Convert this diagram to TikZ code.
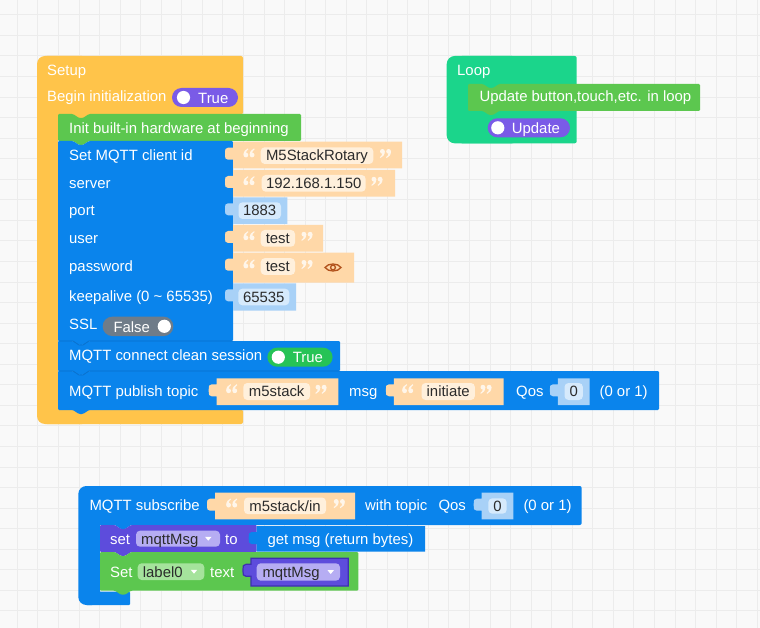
\documentclass[tikz,border=0pt]{standalone}
\usepackage{fontspec}
\setmainfont{Liberation Sans}
\definecolor{bgc}{HTML}{F9F9F9}
\definecolor{gridc}{HTML}{ECECEC}
\definecolor{Yc}{HTML}{FFC44A}
\definecolor{Bc}{HTML}{0A84EC}
\definecolor{Bseam}{HTML}{0870CC}
\definecolor{Gc}{HTML}{5CC74F}
\definecolor{Tc}{HTML}{1BD58B}
\definecolor{PPc}{HTML}{7A5BE7}
\definecolor{Pc}{HTML}{5D4CDC}
\definecolor{Plight}{HTML}{B6ADF3}
\definecolor{Pdark}{HTML}{3E2FB0}
\definecolor{Oc}{HTML}{FFD8A8}
\definecolor{Ofield}{HTML}{FFF0DC}
\definecolor{LBc}{HTML}{A8D1F7}
\definecolor{LBfield}{HTML}{D6EAFC}
\definecolor{Grayc}{HTML}{6F7C89}
\definecolor{GTc}{HTML}{26C356}
\definecolor{Glight}{HTML}{A5E39C}
\definecolor{txtd}{HTML}{2B2B2B}
\definecolor{eyec}{HTML}{B2521C}
\definecolor{qc}{HTML}{FFF6EA}
% statement block with top dip and bottom tab: x0,y0,x1,y1,colour
\newcommand\stmtblk[5]{\fill[#5, rounded corners=1.2] (#1,#2) -- ({#1+15},#2) -- ({#1+21},{#2+4}) -- ({#1+25},{#2+4}) -- ({#1+31},#2) -- (#3,#2) -- (#3,#4) -- ({#1+31},#4) -- ({#1+25},{#4+4}) -- ({#1+21},{#4+4}) -- ({#1+15},#4) -- (#1,#4) -- cycle;}
% parent notch bump above child at x0,y0
\newcommand\bmp[3]{\fill[#3] ({#1+15},{#2-0.6}) -- ({#1+15},#2) -- ({#1+21},{#2+4}) -- ({#1+25},{#2+4}) -- ({#1+31},#2) -- ({#1+31},{#2-0.6}) -- cycle;}
% value block with left puzzle tab: xbody,ytop,xright,ybottom,style
\newcommand\valblk[5]{\path[#5] (#1,#2) -- (#3,#2) -- (#3,#4) -- (#1,#4) -- (#1,{#2+18}) -- ({#1-5},{#2+18}) .. controls ({#1-8},{#2+18}) and ({#1-8},{#2+16}) .. ({#1-8},{#2+13}) -- ({#1-8},{#2+11}) .. controls ({#1-8},{#2+8}) and ({#1-8},{#2+6}) .. ({#1-5},{#2+6}) -- (#1,{#2+6}) -- cycle;}
\newcommand\fld[5]{\fill[#5, rounded corners=4] (#1,#2) rectangle (#3,#4);}
\newcommand\ddarrow[2]{\fill[white] ({#1-3.2},{#2-1.8}) -- ({#1+3.2},{#2-1.8}) -- (#1,{#2+2}) -- cycle;}
\newcommand\seam[3]{\draw[Bseam, line width=0.7] (#1,#2) -- ({#1+15},#2) -- ({#1+21},{#2+4}) -- ({#1+25},{#2+4}) -- ({#1+31},#2) -- (#3,#2);}
% quote images (opening and closing), centred at x,y
\newcommand\qmarko[2]{\fill[qc] ({#1},{#2+1.8}) circle (2.4); \fill[qc] ({#1-2.4},{#2+1.8}) .. controls ({#1-2.4},{#2-1.6}) and ({#1-0.6},{#2-3.8}) .. ({#1+2},{#2-4.8}) -- ({#1+2.5},{#2-3.9}) .. controls ({#1+0.9},{#2-3}) and ({#1+0.1},{#2-1.6}) .. ({#1+0.3},{#2-0.6}) -- cycle;}
\newcommand\qmarkc[2]{\fill[qc] ({#1},{#2-1.8}) circle (2.4); \fill[qc] ({#1+2.4},{#2-1.8}) .. controls ({#1+2.4},{#2+1.6}) and ({#1+0.6},{#2+3.8}) .. ({#1-2},{#2+4.8}) -- ({#1-2.5},{#2+3.9}) .. controls ({#1-0.9},{#2+3}) and ({#1-0.1},{#2+1.6}) .. ({#1-0.3},{#2+0.6}) -- cycle;}
\newcommand\qopen[2]{\qmarko{#1-3.1}{#2}\qmarko{#1+3.1}{#2}}
\newcommand\qclose[2]{\qmarkc{#1-3.1}{#2}\qmarkc{#1+3.1}{#2}}
\tikzset{
  bfont/.style={font=\fontsize{14.9}{16}\selectfont},
  wt/.style={bfont, anchor=base west, inner sep=0pt, text=white},
  dt/.style={bfont, anchor=base, inner sep=0pt, text=txtd},
  dtl/.style={bfont, anchor=base west, inner sep=0pt, text=txtd},
  pill/.style={rounded corners=9.5},
}
\begin{document}
\begin{tikzpicture}[x=1pt,y=-1pt]
\useasboundingbox (0,0) rectangle (760,628);
\fill[bgc] (0,0) rectangle (760,628);
\foreach \i in {0,...,36} \draw[gridc, line width=0.8] ({17.3+20.55*\i},0) -- ({17.3+20.55*\i},628);
\foreach \j in {0,...,30} \draw[gridc, line width=0.8] (0,{14.8+20.55*\j}) -- (760,{14.8+20.55*\j});

% ---------------- Setup block ----------------
\fill[Yc, rounded corners=8] (37,56) rectangle (90,130);
\fill[Yc, rounded corners=2] (45,56) rectangle (243,114.5);
\fill[Yc] (37,64) rectangle (58,416);
\fill[Yc, rounded corners=8] (37,380) rectangle (90,424);
\fill[Yc, rounded corners=2] (45,409.5) rectangle (243,424);
\bmp{58}{114}{Yc}
\node[wt] (setup) at (47,75.3) {Setup};
\node[wt] (begin) at (47,102) {Begin initialization};
\fill[PPc, pill] (172,88) rectangle (238,107);
\fill[white] (183.5,97.5) circle (6.6);
\node[wt] (btrue) at (198,103.2) {True};

\stmtblk{58}{114}{301}{141}{Gc}
\node[wt] (init) at (69,133.3) {Init built-in hardware at beginning};

\stmtblk{58}{141}{233}{341}{Bc}
\node[wt] (cid) at (69,160.3) {Set MQTT client id};
\node[wt] (srv) at (69,188.3) {server};
\node[wt] (prt) at (69,216) {port};
\node[wt] (usr) at (69,243.3) {user};
\node[wt] (pwd) at (69,271.3) {password};
\node[wt] (kal) at (69,301.3) {keepalive (0 \textasciitilde{} 65535)};
\node[wt] (ssl) at (69,329.8) {SSL};
\fill[Grayc, pill] (102.7,316.7) rectangle (173.3,336);
\node[wt] (sslf) at (113.3,332.6) {False};
\fill[white] (164.3,326.3) circle (6.6);

% value children
\valblk{233}{141.7}{402}{168.3}{fill=Oc}
\fld{260.7}{147.3}{373.3}{164}{Ofield}
\qopen{249}{153.2}
\node[dt] (v1) at (317,160.9) {M5StackRotary};
\qclose{385.5}{153.2}

\valblk{233}{170}{395}{196.7}{fill=Oc}
\fld{261.7}{175}{365.7}{191.7}{Ofield}
\qopen{249}{181}
\node[dt] (v2) at (313.7,188.6) {192.168.1.150};
\qclose{377}{181}

\valblk{233}{197.3}{287.3}{224}{fill=LBc}
\fld{238.5}{202.3}{281}{219}{LBfield}
\node[dt] (v3) at (259.7,216) {1883};

\valblk{233}{225}{323}{251.7}{fill=Oc}
\fld{260.7}{230}{295}{246.7}{Ofield}
\qopen{249}{236}
\node[dt] (v4) at (277.8,243.6) {test};
\qclose{307}{236}

\valblk{233}{252.7}{354}{282.7}{fill=Oc}
\fld{260.7}{258.2}{295}{274.9}{Ofield}
\qopen{249}{264.2}
\node[dt] (v5) at (277.8,271.8) {test};
\qclose{307}{264.2}
\draw[eyec, line width=1.3] (325,267.5) .. controls (328,262.8) and (338,262.8) .. (341,267.5) .. controls (338,272.2) and (328,272.2) .. (325,267.5) -- cycle;
\draw[eyec, line width=1.3] (333,267.5) circle (2.4);

\valblk{233}{283.3}{296}{310.7}{fill=LBc}
\fld{238.3}{288.7}{289.3}{305.3}{LBfield}
\node[dt] (v6) at (263.8,302.3) {65535};

% connect clean session
\stmtblk{58}{341}{340}{371}{Bc}
\seam{58}{341}{233}
\node[wt] (ccs) at (69,360.8) {MQTT connect clean session};
\fill[GTc, pill] (267.4,347.7) rectangle (332.6,366.7);
\fill[white] (278.3,357.2) circle (6.6);
\node[wt] (ctrue) at (292.7,362.8) {True};

% publish
\stmtblk{58}{371}{659}{410}{Bc}
\seam{58}{371}{340}
\node[wt] (pub) at (69,396.3) {MQTT publish topic};
\valblk{216.7}{378.3}{338.3}{405}{fill=Oc}
\fld{243.3}{383}{310}{400}{Ofield}
\qopen{231.7}{389}
\node[dt] (v7) at (276.7,396.8) {m5stack};
\qclose{321}{389}
\node[wt] (msg) at (349,396.3) {msg};
\valblk{393.9}{378.3}{503.7}{405}{fill=Oc}
\fld{421.5}{383}{474.9}{400}{Ofield}
\qopen{407.7}{389}
\node[dt] (v8) at (448.2,396.8) {initiate};
\qclose{486}{389}
\node[wt] (qos1) at (516,396.3) {Qos};
\valblk{557.9}{378.3}{589.5}{405}{fill=LBc}
\fld{564.5}{383}{582.9}{400}{LBfield}
\node[dt] (v9) at (573.7,396.8) {0};
\node[wt] (r01a) at (599.4,396.3) {(0 or 1)};

% ---------------- Loop block ----------------
\fill[Tc, rounded corners=8] (446.7,56) rectangle (520,143.3);
\fill[Tc, rounded corners=2] (460,56) rectangle (576.7,143.3);
\node[wt] (loop) at (457,75.3) {Loop};
\stmtblk{468}{84}{700}{111}{Gc}
\node[wt] (upd) at (479.3,101.8) {Update button,touch,etc. in loop};
\fill[PPc, pill] (487.7,118.3) rectangle (570,137.3);
\fill[white] (497.8,127.8) circle (6.6);
\node[wt] (updp) at (511.7,133.3) {Update};

% ---------------- Subscribe block ----------------
\fill[Bc, rounded corners=8] (78.3,486) rectangle (100,605);
\fill[Bc, rounded corners=2] (86,486) rectangle (581.7,525);
\fill[Bc, rounded corners=1] (86,591.7) rectangle (130,605);
\bmp{100}{525}{Bc}
\node[wt] (sub) at (89.3,510.6) {MQTT subscribe};
\valblk{215}{492.7}{355}{519.3}{fill=Oc}
\fld{244}{497.5}{326}{514.2}{Ofield}
\qopen{231.7}{503.3}
\node[dt] (v10) at (285,511.1) {m5stack/in};
\qclose{339.3}{503.3}
\node[wt] (wtop) at (365,510.6) {with topic};
\node[wt] (qos2) at (438.3,510.6) {Qos};
\valblk{481.7}{492.7}{513.3}{519.3}{fill=LBc}
\fld{488.3}{498.3}{506.7}{513.7}{LBfield}
\node[dt] (v11) at (497.5,511.1) {0};
\node[wt] (r01b) at (523.3,510.6) {(0 or 1)};

\stmtblk{100}{525}{256.7}{552}{Pc}
\node[wt] (setv) at (110,544.6) {set};
\fld{136}{530.7}{220}{546.7}{Plight}
\node[dtl] (dd1) at (141,544) {mqttMsg};
\ddarrow{208.3}{538.7}
\node[wt] (to) at (225,544.6) {to};
\valblk{256.7}{526}{425}{551.7}{fill=Bc}
\node[wt] (getm) at (267.3,544.6) {get msg (return bytes)};

\stmtblk{100}{552}{358.3}{590.7}{Gc}
\node[wt] (setl) at (110,577) {Set};
\fld{137.7}{563.3}{204.3}{580}{Glight}
\node[dtl] (dd2) at (142.7,577) {label0};
\ddarrow{194}{571.7}
\node[wt] (txt) at (210,577) {text};
\valblk{251}{558.3}{348.3}{586}{fill=Pc, draw=Pdark, line width=1.2}
\fld{256.7}{563.3}{340}{580.7}{Plight}
\node[dtl] (dd3) at (262.3,577.3) {mqttMsg};
\ddarrow{330.7}{572}
\end{tikzpicture}
\end{document}
